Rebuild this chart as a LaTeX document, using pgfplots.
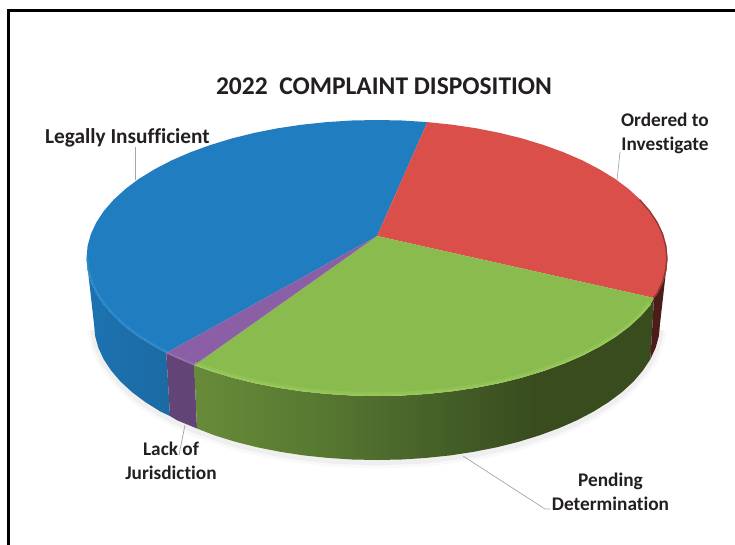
\documentclass[border=0pt]{standalone}
\usepackage{fontspec}
\setmainfont[Ligatures=CommonOff]{Carlito}
\usepackage{pgfplots}
\pgfplotsset{compat=1.18}
\definecolor{bluetop}{HTML}{1F7DC0}
\definecolor{redtop}{HTML}{DB4F4B}
\definecolor{greentop}{HTML}{8ABB4E}
\definecolor{purpletop}{HTML}{8A5FA5}
\definecolor{labelc}{HTML}{231F20}
\definecolor{bluerim}{HTML}{3A96D6}
\definecolor{greenrim}{HTML}{A0D060}
\definecolor{purplerim}{HTML}{A078B8}
\definecolor{gs1}{HTML}{678B39}
\definecolor{gs2}{HTML}{557630}
\definecolor{gs3}{HTML}{48632A}
\definecolor{gs4}{HTML}{384C1E}
\pgfdeclarehorizontalshading{greenside}{100bp}{color(0bp)=(gs1); color(25bp)=(gs1); color(40bp)=(gs2); color(50bp)=(gs3); color(62bp)=(gs4); color(75bp)=(gs4); color(100bp)=(gs4)}
\begin{document}
\begin{tikzpicture}
\path[use as bounding box] (0pt,0pt) rectangle (735pt,544pt);
\begin{axis}[
  at={(0pt,0pt)}, anchor=south west,
  scale only axis, width=735pt, height=544pt,
  xmin=0, xmax=735, ymin=0, ymax=544, y dir=reverse,
  hide axis, clip=false]
% frame
\addplot[black, line width=3pt, no markers] coordinates {(8.5,546) (8.5,10) (737,10)};
% soft shadow
\addplot[gray, opacity=0.05, line width=13pt, no markers, line join=round] coordinates {(660,330) (658.9,338) (655.7,349) (650.4,361) (642.9,372) (633.5,383) (622.1,394) (608.8,404) (593.8,413) (577.1,422) (558.9,430) (539.3,437) (518.5,444) (496.6,449) (473.8,454) (450.2,457) (426.1,460) (401.7,461) (377,462) (352.3,461) (327.9,460) (303.8,457) (280.2,454) (257.4,449) (235.5,444) (214.7,437) (195.1,430) (176.9,422) (160.2,413) (145.2,404) (131.9,394) (120.5,383) (111.1,372) (103.6,361) (98.3,349) (95.1,338) (94,330)};
\addplot[gray, opacity=0.08, line width=7pt, no markers, line join=round] coordinates {(660,330) (658.9,338) (655.7,349) (650.4,361) (642.9,372) (633.5,383) (622.1,394) (608.8,404) (593.8,413) (577.1,422) (558.9,430) (539.3,437) (518.5,444) (496.6,449) (473.8,454) (450.2,457) (426.1,460) (401.7,461) (377,462) (352.3,461) (327.9,460) (303.8,457) (280.2,454) (257.4,449) (235.5,444) (214.7,437) (195.1,430) (176.9,422) (160.2,413) (145.2,404) (131.9,394) (120.5,383) (111.1,372) (103.6,361) (98.3,349) (95.1,338) (94,330)};
% side: blue
\addplot[draw=none, shade, left color=bluetop!92!black, right color=bluetop!85!black, no markers] coordinates {(86.5,258) (87.6,270) (90.9,282) (96.4,293.7) (104,305.2) (113.7,316.3) (125.4,327) (139,337.2) (154.5,346.7) (166.3,353) (170,416) (160.2,411.4) (145.2,402) (131.9,392) (120.5,381.5) (111.1,370.5) (103.6,359.2) (98.3,347.6) (95.1,335.9) (94,324)} -- cycle;
% side: purple
\addplot[draw=none, fill=purpletop!72!black, no markers] coordinates {(166.3,353) (171.6,355.6) (190.3,363.7) (194.2,365.2) (197,428.5) (176.9,420.2) (170,416)} -- cycle;
% side: green
\addplot[draw=none, shade, shading=greenside, no markers] coordinates {(194.2,365.2) (210.4,371) (231.7,377.5) (254.2,383.1) (277.6,387.7) (301.8,391.3) (326.6,393.9) (351.7,395.5) (377,396) (402.3,395.5) (427.4,393.9) (452.2,391.3) (476.4,387.7) (499.8,383.1) (522.3,377.5) (543.6,371) (563.7,363.7) (582.4,355.6) (599.5,346.7) (615,337.2) (628.6,327) (640.3,316.3) (650,305.2) (654,298) (650.4,359.2) (642.9,370.5) (633.5,381.5) (622.1,392) (608.8,402) (593.8,411.4) (577.1,420.2) (558.9,428.2) (539.3,435.4) (518.5,441.8) (496.6,447.3) (473.8,451.8) (450.2,455.4) (426.1,457.9) (401.7,459.5) (377,460) (352.3,459.5) (327.9,457.9) (303.8,455.4) (280.2,451.8) (257.4,447.3) (235.5,441.8) (214.7,435.4) (197,428.5)} -- cycle;
% side: red
\addplot[draw=none, fill=redtop!35!black, no markers] coordinates {(667.5,258) (666.4,270) (663.1,282) (657.6,293.7) (654,298) (650.4,359.2) (655.7,347.6) (658.9,335.9) (660,324)} -- cycle;
% top: blue
\addplot[draw=none, fill=bluetop, no markers] coordinates {(377,236) (166.3,353) (154.5,346.7) (139,337.2) (125.4,327) (113.7,316.3) (104,305.2) (96.4,293.7) (90.9,282) (87.6,270) (86.5,258) (87.6,246) (90.9,234) (96.4,222.3) (104,210.8) (113.7,199.7) (125.4,189) (139,178.8) (154.5,169.3) (171.6,160.4) (190.3,152.3) (210.4,145) (231.7,138.5) (254.2,132.9) (277.6,128.3) (301.8,124.7) (326.6,122.1) (351.7,120.5) (377,120) (402.3,120.5) (427.4,122.1)} -- cycle;
% top: red
\addplot[draw=none, fill=redtop, no markers] coordinates {(377,236) (427.4,122.1) (452.2,124.7) (476.4,128.3) (499.8,132.9) (522.3,138.5) (543.6,145) (563.7,152.3) (582.4,160.4) (599.5,169.3) (615,178.8) (628.6,189) (640.3,199.7) (650,210.8) (657.6,222.3) (663.1,234) (666.4,246) (667.5,258) (666.4,270) (663.1,282) (657.6,293.7) (654,298)} -- cycle;
% top: green
\addplot[draw=none, fill=greentop, no markers] coordinates {(377,236) (654,298) (650,305.2) (640.3,316.3) (628.6,327) (615,337.2) (599.5,346.7) (582.4,355.6) (563.7,363.7) (543.6,371) (522.3,377.5) (499.8,383.1) (476.4,387.7) (452.2,391.3) (427.4,393.9) (402.3,395.5) (377,396) (351.7,395.5) (326.6,393.9) (301.8,391.3) (277.6,387.7) (254.2,383.1) (231.7,377.5) (210.4,371) (194.2,365.2)} -- cycle;
% top: purple
\addplot[draw=none, fill=purpletop, no markers] coordinates {(377,236) (194.2,365.2) (190.3,363.7) (171.6,355.6) (166.3,353)} -- cycle;
% rims
\addplot[bluerim, opacity=0.55, line width=1.8pt, no markers, yshift=1pt, xshift=0.8pt] coordinates {(166.3,353) (154.5,346.7) (139,337.2) (125.4,327) (113.7,316.3) (104,305.2) (96.4,293.7) (90.9,282) (87.6,270) (86.5,258)};
\addplot[purplerim, opacity=0.55, line width=1.8pt, no markers, yshift=1pt] coordinates {(166.8,353.2) (171.6,355.6) (190.3,363.7) (193.7,365)};
\addplot[greenrim, opacity=0.35, line width=3.6pt, no markers, yshift=2pt] coordinates {(194.7,365.4) (210.4,371) (231.7,377.5) (254.2,383.1) (277.6,387.7) (301.8,391.3) (326.6,393.9) (351.7,395.5) (377,396) (402.3,395.5) (427.4,393.9) (452.2,391.3) (476.4,387.7) (499.8,383.1) (522.3,377.5) (543.6,371) (563.7,363.7) (582.4,355.6) (599.5,346.7) (615,337.2) (628.6,327) (640.3,316.3) (650,305.2)};
\addplot[greenrim, opacity=0.55, line width=1.4pt, no markers, yshift=0.8pt] coordinates {(194.7,365.4) (210.4,371) (231.7,377.5) (254.2,383.1) (277.6,387.7) (301.8,391.3) (326.6,393.9) (351.7,395.5) (377,396) (402.3,395.5) (427.4,393.9) (452.2,391.3) (476.4,387.7) (499.8,383.1) (522.3,377.5) (543.6,371) (563.7,363.7) (582.4,355.6) (599.5,346.7) (615,337.2) (628.6,327) (640.3,316.3) (650,305.2)};
\addplot[redtop!55!black, opacity=0.7, line width=1.4pt, no markers, xshift=-0.6pt] coordinates {(640.3,199.7) (650,210.8) (657.6,222.3) (663.1,234) (666.4,246) (667.5,258) (666.4,270) (663.1,282) (657.6,293.7) (654,298)};
% leaders
\addplot[gray!70, line width=0.7pt, no markers] coordinates {(135.5,147) (135.5,180)};
\addplot[gray!70, line width=0.7pt, no markers] coordinates {(620,152) (617,180)};
\addplot[gray!70, line width=0.7pt, no markers] coordinates {(463,456) (545,509) (550,509)};
\addplot[gray!70, line width=0.7pt, no markers] coordinates {(185,425) (179,455)};
% text
\node[text=labelc, font=\fontsize{25.5}{30}\selectfont\bfseries] at (axis cs:384,86) {2022\ \ COMPLAINT DISPOSITION};
\node[text=labelc, font=\fontsize{21.3}{24}\selectfont\bfseries] at (axis cs:127.5,138) {Legally Insufficient};
\node[text=labelc, font=\fontsize{19.3}{24.5}\selectfont\bfseries, align=center] at (axis cs:665,133.5) {Ordered to\\Investigate};
\node[text=labelc, font=\fontsize{19.3}{24.5}\selectfont\bfseries, align=center] at (axis cs:610.5,492) {Pending\\Determination};
\node[text=labelc, font=\fontsize{19.3}{24.5}\selectfont\bfseries, align=center] at (axis cs:171,461) {Lack of\\Jurisdiction};
\end{axis}
\end{tikzpicture}
\end{document}
